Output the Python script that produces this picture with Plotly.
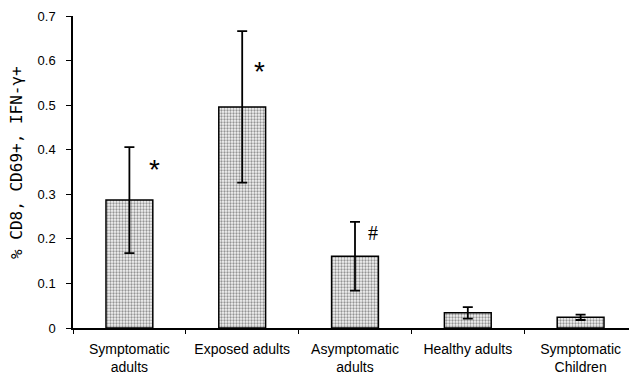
import plotly.graph_objects as go

categories = ["Symptomatic<br>adults", "Exposed adults", "Asymptomatic<br>adults", "Healthy adults", "Symptomatic<br>Children"]
values = [0.287, 0.496, 0.161, 0.034, 0.024]
errors = [0.119, 0.170, 0.077, 0.013, 0.006]
marks = ["*", "*", "#", "", ""]
mark_y = [0.356, 0.576, 0.213, None, None]
mark_xshift = [25, 17, 18, 0, 0]
y_ticks = [0, 0.1, 0.2, 0.3, 0.4, 0.5, 0.6, 0.7]
y_tick_labels = ["0", "0.1", "0.2", "0.3", "0.4", "0.5", "0.6", "0.7"]
y_title = "% CD8, CD69+, IFN-γ+"

fig = go.Figure()
fig.add_trace(go.Bar(
    x=categories, y=values, width=0.415,
    marker=dict(color="#d0d0d0", line=dict(color="black", width=1.5),
                pattern=dict(shape=".", fgcolor="#333333", bgcolor="#f4f4f4", size=3, solidity=0.45)),
    error_y=dict(type="data", array=errors, visible=True, color="black", thickness=1.8, width=5),
))

for c, m, my, xs in zip(categories, marks, mark_y, mark_xshift):
    if m == "*":
        fig.add_annotation(x=c, y=my, text=m, showarrow=False, xref="x", yref="y", xshift=xs,
                           font=dict(family="Liberation Sans, Arial", size=28, color="black"))
    elif m:
        fig.add_annotation(x=c, y=my, text=m, showarrow=False, xref="x", yref="y", xshift=xs,
                           font=dict(family="Liberation Serif, Times New Roman", size=20, color="black"))

fig.add_annotation(x=0, y=0.529, xref="paper", yref="paper", text=y_title, textangle=-90,
                   showarrow=False, xanchor="center", yanchor="middle", xshift=-56,
                   font=dict(family="DejaVu Sans Mono", size=16, color="black"))

fig.update_layout(
    width=629, height=367,
    margin=dict(l=65, r=0, t=8, b=47),
    plot_bgcolor="white", paper_bgcolor="white",
    showlegend=False,
    font=dict(family="Liberation Sans, Arial", size=13, color="black"),
)
fig.update_xaxes(showline=True, linecolor="black", linewidth=1.5, ticks="outside", tickson="boundaries",
                 ticklen=4, tickcolor="black", tickfont=dict(size=14), showgrid=False, ticklabelstandoff=7)
fig.update_yaxes(range=[0, 0.7], tickvals=y_ticks, ticktext=y_tick_labels, showline=True, linecolor="black",
                 linewidth=1.5, ticks="outside", ticklen=5, tickcolor="black", showgrid=False, zeroline=False,
                 tickfont=dict(size=13), ticklabelstandoff=8)

fig.write_html("out.html")
